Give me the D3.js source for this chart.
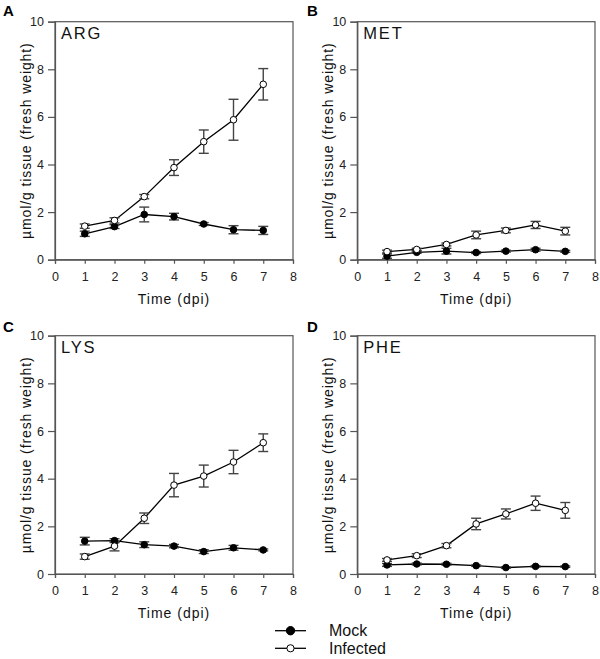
<!DOCTYPE html>
<html><head><meta charset="utf-8">
<script src="https://cdn.jsdelivr.net/npm/d3@7"></script>
<style>
html,body{margin:0;padding:0;background:#fff;}
svg{display:block;}
text{font-family:"Liberation Sans",Arial,sans-serif;}
</style></head>
<body>
<svg id="chart" width="600" height="659"></svg>
<script>
const days = [1,2,3,4,5,6,7];
const xTicks = [0,1,2,3,4,5,6,7,8];
const yTicks = [0,2,4,6,8,10];
const panelLetters = ["A","B","C","D"];
const panelTitles = ["ARG","MET","LYS","PHE"];
const seriesNames = ["Mock","Infected"];
const yTitle = "µmol/g tissue (fresh weight)";
const xTitle = "Time (dpi)";

const argMock = [1.09,1.39,1.90,1.81,1.50,1.26,1.23];
const argMockSE = [0.11,0.08,0.31,0.14,0.06,0.17,0.17];
const argInf = [1.41,1.65,2.65,3.87,4.96,5.88,7.37];
const argInfSE = [0.09,0.11,0.09,0.33,0.49,0.86,0.66];

const metMock = [0.15,0.31,0.36,0.30,0.36,0.42,0.35];
const metMockSE = [0.09,0.04,0.12,0.04,0.04,0.06,0.04];
const metInf = [0.34,0.43,0.64,1.04,1.23,1.46,1.20];
const metInfSE = [0.06,0.05,0.06,0.16,0.10,0.15,0.16];

const lysMock = [1.38,1.40,1.23,1.17,0.94,1.10,1.01];
const lysMockSE = [0.16,0.08,0.12,0.07,0.08,0.10,0.04];
const lysInf = [0.73,1.17,2.34,3.73,4.11,4.70,5.51];
const lysInfSE = [0.11,0.20,0.22,0.49,0.46,0.49,0.37];

const pheMock = [0.38,0.42,0.41,0.35,0.27,0.32,0.31];
const pheMockSE = [0.06,0.04,0.04,0.03,0.03,0.03,0.03];
const pheInf = [0.59,0.77,1.19,2.10,2.52,2.97,2.67];
const pheInfSE = [0.06,0.08,0.09,0.24,0.21,0.30,0.33];

const panelData = [
  {mock:argMock, mockSE:argMockSE, inf:argInf, infSE:argInfSE},
  {mock:metMock, mockSE:metMockSE, inf:metInf, infSE:metInfSE},
  {mock:lysMock, mockSE:lysMockSE, inf:lysInf, infSE:lysInfSE},
  {mock:pheMock, mockSE:pheMockSE, inf:pheInf, infSE:pheInfSE}
];

// layout
const boxes = [
  {x0:55, x1:293, y0:21.7, y1:259.7, lx:3, ly:16},
  {x0:357.3, x1:595, y0:21.7, y1:259.7, lx:307, ly:16},
  {x0:55, x1:293, y0:335.7, y1:574, lx:3, ly:332},
  {x0:357.3, x1:595, y0:335.7, y1:574, lx:307, ly:332}
];
const axisColor = "#555";
const errColor = "#444";

const svg = d3.select("#chart");

boxes.forEach((b,i)=>{
  const d = panelData[i];
  const x = d3.scaleLinear().domain([0,8]).range([b.x0,b.x1]);
  const y = d3.scaleLinear().domain([0,10]).range([b.y1,b.y0]);
  const g = svg.append("g");

  g.append("rect").attr("x",b.x0).attr("y",b.y0).attr("width",b.x1-b.x0).attr("height",b.y1-b.y0)
    .attr("fill","none").attr("stroke",axisColor).attr("stroke-width",1.2);

  const ya = g.append("g").attr("transform",`translate(${b.x0},0)`)
    .call(d3.axisLeft(y).tickValues(yTicks).tickSize(7).tickPadding(4).tickFormat(d3.format("d")));
  ya.select(".domain").attr("stroke",axisColor).attr("stroke-width",1.2);
  ya.selectAll(".tick line").attr("stroke",axisColor).attr("stroke-width",1.2);
  ya.selectAll(".tick text").attr("font-size",12.5).attr("fill","#222").attr("font-family","Liberation Sans, Arial, sans-serif");

  const xa = g.append("g").attr("transform",`translate(0,${b.y1})`)
    .call(d3.axisBottom(x).tickValues(xTicks).tickSize(4).tickPadding(8).tickFormat(d3.format("d")));
  xa.select(".domain").attr("stroke",axisColor).attr("stroke-width",1.2);
  xa.selectAll(".tick line").attr("stroke",axisColor).attr("stroke-width",1.2);
  xa.selectAll(".tick text").attr("font-size",12.5).attr("fill","#222").attr("font-family","Liberation Sans, Arial, sans-serif");

  g.append("text").attr("x",(b.x0+b.x1)/2).attr("y",b.y1+44)
    .attr("text-anchor","middle").attr("font-size",14).attr("letter-spacing",1).attr("fill","#111")
    .text(xTitle);
  g.append("text").attr("transform",`translate(${b.x0-24},${(b.y0+b.y1)/2}) rotate(-90)`)
    .attr("text-anchor","middle").attr("font-size",14).attr("letter-spacing",0.9).attr("fill","#111")
    .text(yTitle);

  g.append("text").attr("x",b.x0+6).attr("y",b.y0+17.5).attr("font-size",16.5).attr("letter-spacing",1.8)
    .attr("fill","#111").text(panelTitles[i]);
  g.append("text").attr("x",b.lx).attr("y",b.ly).attr("font-size",15).attr("font-weight","bold")
    .attr("fill","#000").text(panelLetters[i]);

  const line = d3.line().x((v,k)=>x(days[k])).y(v=>y(v));
  const series = [
    {vals:d.mock, se:d.mockSE, fill:"#000"},
    {vals:d.inf, se:d.infSE, fill:"#fff"}
  ];
  series.forEach(s=>{
    g.append("path").datum(s.vals).attr("d",line).attr("fill","none").attr("stroke","#000").attr("stroke-width",1.3);
  });
  series.forEach(s=>{
    const eg = g.append("g").attr("stroke",errColor).attr("stroke-width",1.4);
    s.vals.forEach((v,k)=>{
      const cx = x(days[k]);
      const hi = y(v+s.se[k]), lo = y(v-s.se[k]);
      eg.append("line").attr("x1",cx).attr("x2",cx).attr("y1",hi).attr("y2",lo);
      eg.append("line").attr("x1",cx-5).attr("x2",cx+5).attr("y1",hi).attr("y2",hi);
      eg.append("line").attr("x1",cx-5).attr("x2",cx+5).attr("y1",lo).attr("y2",lo);
    });
  });
  series.forEach(s=>{
    g.selectAll(null).data(s.vals).enter().append("circle")
      .attr("cx",(v,k)=>x(days[k])).attr("cy",v=>y(v)).attr("r",3.3)
      .attr("fill",s.fill).attr("stroke","#000").attr("stroke-width",1);
  });
});

const legendY = [630.7, 648.3];
const legendFill = ["#000","#fff"];
seriesNames.forEach((name,i)=>{
  const lg = svg.append("g");
  lg.append("line").attr("x1",275).attr("x2",306).attr("y1",legendY[i]).attr("y2",legendY[i])
    .attr("stroke","#000").attr("stroke-width",1.3);
  lg.append("circle").attr("cx",290.5).attr("cy",legendY[i]).attr("r",i===0?4.2:3.6)
    .attr("fill",legendFill[i]).attr("stroke","#000").attr("stroke-width",1);
  lg.append("text").attr("x",329).attr("y",legendY[i]+5.5).attr("font-size",16).attr("fill","#111").text(name);
});
</script>
</body></html>
